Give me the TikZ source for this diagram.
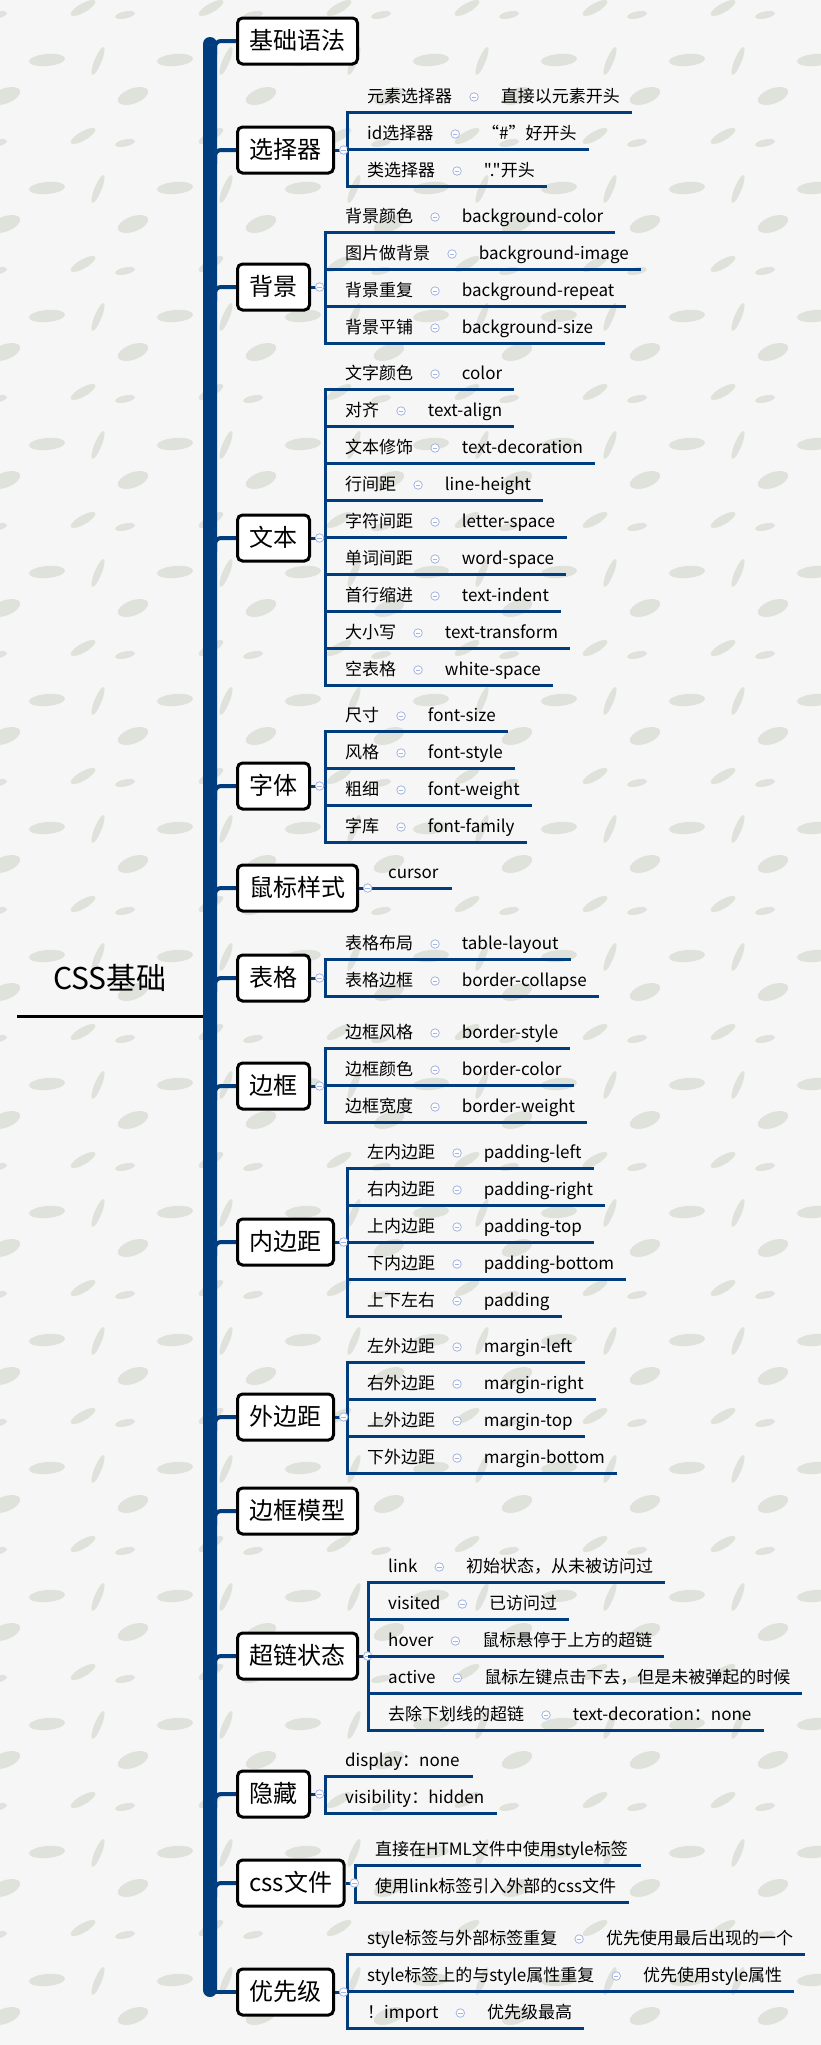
\documentclass[tikz,border=0pt]{standalone}
\usepackage{fontspec}
\setmainfont{Noto Sans CJK SC}[Ligatures=TeXOff]
\usetikzlibrary{positioning}

\definecolor{navy}{RGB}{0,61,126}
\definecolor{foldc}{RGB}{163,180,226}
\definecolor{paper}{RGB}{245,246,245}
\definecolor{leafc}{RGB}{223,226,219}

% one row: key, fold mark, value and the line under them
\newcommand{\entry}[5]{%
  \coordinate (#1a) at ({#2},{#3});
  \node[itemtxt] (#1k) at ({#2+20},{#3-15}) {#4};
  \node[fold, right=17pt of #1k] (#1c) {};
  \node[itemtxt, right=22pt of #1c] (#1v) {#5};
  \draw[uline] (#1a) -- (#1a -| #1v.east) -- ++(12,0);
}
% one row with a single text
\newcommand{\plainentry}[4]{%
  \coordinate (#1a) at ({#2},{#3});
  \node[itemtxt] (#1k) at ({#2+20},{#3-15}) {#4};
  \draw[uline] (#1a) -- (#1a -| #1k.east) -- ++(13,0);
}
% topic -> bracket of its rows
\newcommand{\bracket}[4]{%
  \coordinate (#1x) at (#2,#3);
  \draw[uline] (#1.east) -- (#1.east -| #1x);
  \draw[uline, line cap=rect] (#1x) -- (#2,#4);
  \node[fold, right=4pt of #1] (#1c) {};
}

\begin{document}
\begin{tikzpicture}[x=1pt, y=-1pt]
    \tikzstyle{topic} = [draw, line width=3pt, rounded corners=5pt, fill=white, anchor=west,
                         font=\fontsize{24}{28}\selectfont, minimum height=46pt, inner xsep=12pt,
                         text height=20pt, text depth=4pt]
    \tikzstyle{itemtxt} = [anchor=west, inner sep=0pt, font=\fontsize{17}{20}\selectfont,
                           text height=14pt, text depth=3.5pt]
    \tikzstyle{fold} = [circle, draw=foldc, line width=0.8pt, fill=white, minimum size=8.5pt, inner sep=0pt,
                        path picture={\draw[foldc, line width=0.8pt] ([xshift=-2.2pt]path picture bounding box.center) -- ([xshift=2.2pt]path picture bounding box.center);}]
    \tikzstyle{uline} = [draw=navy, line width=3pt]
    \tikzstyle{branch} = [draw=navy, line width=4pt, rounded corners=6pt]

    \useasboundingbox (0,0) rectangle (821,2045);

    % Paper
    \fill[paper] (0,0) rectangle (821,2045);
    \foreach \i in {-1,...,6} \foreach \j in {-1,...,16} {
      \begin{scope}[shift={(128*\i,128*\j)}]
        \fill[leafc, shift={(47,60)}, rotate=5] (0,0) ellipse (18 and 6);
        \fill[leafc, shift={(5,96)}, rotate=20] (0,0) ellipse (16 and 7.5);
        \fill[leafc, shift={(83,8)}, rotate=30] (0,0) ellipse (14 and 4.5);
        \fill[leafc, shift={(125,15)}, rotate=12] (0,0) ellipse (10 and 3.5);
        \fill[leafc, shift={(98,61)}, rotate=68] (0,0) ellipse (15 and 3.5);
      \end{scope}
    }

    % Root
    \node[font=\fontsize{30}{34}\selectfont] (root) at (110,978) {CSS基础};
    \coordinate (rl) at (17,1016);
    \coordinate (rr) at (204,1016);
    \draw[line width=3pt] (rl) -- (rr);

    % Trunk
    \fill[navy, rounded corners=7pt] (203,37) rectangle (217,1997);
    \coordinate (trunk) at (215,0);

    % Topics
    \node[topic] (b1) at (236,41) {基础语法};
    \node[topic] (b2) at (236,150) {选择器};
    \node[topic] (b3) at (236,287) {背景};
    \node[topic] (b4) at (236,538) {文本};
    \node[topic] (b5) at (236,786) {字体};
    \node[topic] (b6) at (236,888) {鼠标样式};
    \node[topic] (b7) at (236,978) {表格};
    \node[topic] (b8) at (236,1086) {边框};
    \node[topic] (b9) at (236,1242) {内边距};
    \node[topic] (b10) at (236,1417) {外边距};
    \node[topic] (b11) at (236,1511) {边框模型};
    \node[topic] (b12) at (236,1656) {超链状态};
    \node[topic] (b13) at (236,1794) {隐藏};
    \node[topic] (b14) at (236,1883) {css文件};
    \node[topic] (b15) at (236,1992) {优先级};

    % Branches
    \foreach \b in {b1,b2,b3,b4,b5,b6,b7,b8,b9,b10,b11,b12,b13,b14}
      \draw[branch] (trunk |- \b.west) ++(0,14) |- (\b.west);
    \draw[branch] (trunk |- b15.west) -- (b15.west);

    % 选择器
    \bracket{b2}{347}{112}{186}
    \foreach \k/\v [count=\i] in {元素选择器/直接以元素开头, id选择器/“\#”好开头, 类选择器/"."开头}
      {\entry{se\i}{347}{112+37*(\i-1)}{\k}{\v}}

    % 背景
    \bracket{b3}{325}{232}{343}
    \foreach \k/\v [count=\i] in {背景颜色/background-color, 图片做背景/background-image,
                                  背景重复/background-repeat, 背景平铺/background-size}
      {\entry{bg\i}{325}{232+37*(\i-1)}{\k}{\v}}

    % 文本
    \bracket{b4}{325}{389}{685}
    \foreach \k/\v [count=\i] in {文字颜色/color, 对齐/text-align, 文本修饰/text-decoration,
                                  行间距/line-height, 字符间距/letter-space, 单词间距/word-space,
                                  首行缩进/text-indent, 大小写/text-transform, 空表格/white-space}
      {\entry{tx\i}{325}{389+37*(\i-1)}{\k}{\v}}

    % 字体
    \bracket{b5}{325}{731}{842}
    \foreach \k/\v [count=\i] in {尺寸/font-size, 风格/font-style, 粗细/font-weight, 字库/font-family}
      {\entry{ft\i}{325}{731+37*(\i-1)}{\k}{\v}}

    % 鼠标样式
    \node[itemtxt] (cur) at (388,873) {cursor};
    \draw[uline] (b6.east) -- (b6.east -| cur.east) -- ++(13,0);
    \node[fold, right=4pt of b6] (b6c) {};

    % 表格
    \bracket{b7}{325}{959}{996}
    \foreach \k/\v [count=\i] in {表格布局/table-layout, 表格边框/border-collapse}
      {\entry{tb\i}{325}{959+37*(\i-1)}{\k}{\v}}

    % 边框
    \bracket{b8}{325}{1048}{1122}
    \foreach \k/\v [count=\i] in {边框风格/border-style, 边框颜色/border-color, 边框宽度/border-weight}
      {\entry{bd\i}{325}{1048+37*(\i-1)}{\k}{\v}}

    % 内边距
    \bracket{b9}{347}{1168}{1316}
    \foreach \k/\v [count=\i] in {左内边距/padding-left, 右内边距/padding-right, 上内边距/padding-top,
                                  下内边距/padding-bottom, 上下左右/padding}
      {\entry{pd\i}{347}{1168+37*(\i-1)}{\k}{\v}}

    % 外边距
    \bracket{b10}{347}{1362}{1473}
    \foreach \k/\v [count=\i] in {左外边距/margin-left, 右外边距/margin-right, 上外边距/margin-top,
                                  下外边距/margin-bottom}
      {\entry{mg\i}{347}{1362+37*(\i-1)}{\k}{\v}}

    % 超链状态
    \bracket{b12}{368}{1582}{1730}
    \foreach \k/\v [count=\i] in {link/初始状态，从未被访问过, visited/已访问过, hover/鼠标悬停于上方的超链,
                                  active/鼠标左键点击下去，但是未被弹起的时候,
                                  去除下划线的超链/text-decoration：none}
      {\entry{lk\i}{368}{1582+37*(\i-1)}{\k}{\v}}

    % 隐藏
    \bracket{b13}{325}{1776}{1813}
    \plainentry{hd1}{325}{1776}{display：none}
    \plainentry{hd2}{325}{1813}{visibility：hidden}

    % css文件
    \bracket{b14}{355}{1865}{1902}
    \plainentry{cf1}{355}{1865}{直接在HTML文件中使用style标签}
    \plainentry{cf2}{355}{1902}{使用link标签引入外部的css文件}

    % 优先级
    \bracket{b15}{347}{1954}{2028}
    \foreach \k/\v [count=\i] in {style标签与外部标签重复/优先使用最后出现的一个,
                                  style标签上的与style属性重复/优先使用style属性, ！import/优先级最高}
      {\entry{pr\i}{347}{1954+37*(\i-1)}{\k}{\v}}
\end{tikzpicture}
\end{document}
